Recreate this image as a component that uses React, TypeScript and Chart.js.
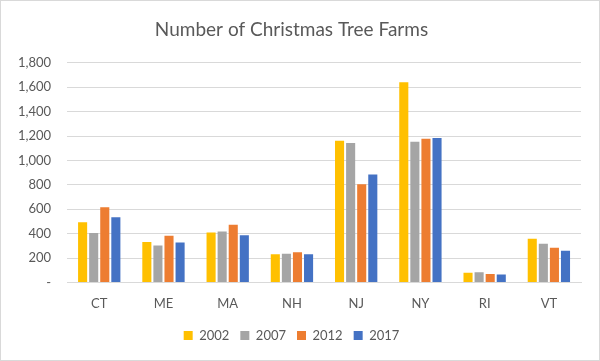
import React, { useEffect, useRef } from "react";
import { Chart, registerables } from "chart.js";

Chart.register(...registerables);

const categories = ["CT", "ME", "MA", "NH", "NJ", "NY", "RI", "VT"];
const years = ["2002", "2007", "2012", "2017"];
const values2002 = [493, 332, 409, 230, 1162, 1641, 80, 357];
const values2007 = [405, 302, 418, 235, 1143, 1152, 83, 316];
const values2012 = [616, 383, 472, 248, 805, 1178, 68, 284];
const values2017 = [535, 327, 386, 230, 884, 1184, 64, 260];
const colors = ["#FFC000", "#A5A5A5", "#ED7D31", "#4472C4"];
const yTicks = [0, 200, 400, 600, 800, 1000, 1200, 1400, 1600, 1800];

export default function App() {
  const ref = useRef<HTMLCanvasElement | null>(null);
  useEffect(() => {
    if (!ref.current) return;
    const series = [values2002, values2007, values2012, values2017];
    const font = "Lato, 'Open Sans', sans-serif";
    const chart = new Chart(ref.current, {
      type: "bar",
      data: {
        labels: categories,
        datasets: series.map((s, i) => ({
          label: years[i],
          data: s,
          backgroundColor: colors[i],
          borderWidth: 0,
          categoryPercentage: 0.69,
          barPercentage: 0.82,
        })),
      },
      options: {
        animation: false,
        responsive: false,
        maintainAspectRatio: false,
        layout: { padding: { left: 1, right: 18, top: 13, bottom: 8 } },
        plugins: {
          title: {
            display: true,
            text: "Number of Christmas Tree Farms",
            color: "#595959",
            font: { family: font, size: 19, weight: "normal" },
            padding: { top: 4, bottom: 22 },
          },
          legend: {
            position: "bottom",
            labels: {
              color: "#595959",
              font: { family: font, size: 13 },
              boxWidth: 9,
              boxHeight: 9,
              padding: 11,
            },
          },
          tooltip: { enabled: false },
        },
        scales: {
          x: {
            grid: { display: false },
            border: { color: "#d9d9d9" },
            ticks: { color: "#595959", font: { family: font, size: 13 }, padding: 6 },
          },
          y: {
            min: 0,
            max: 1800,
            afterBuildTicks: (axis: any) => {
              axis.ticks = yTicks.map((v) => ({ value: v }));
            },
            grid: { color: "#d9d9d9", drawTicks: false },
            border: { display: false },
            ticks: {
              color: "#595959",
              font: { family: font, size: 13 },
              padding: 16,
              callback: (v: any) => (Number(v) === 0 ? "-" : Number(v).toLocaleString("en-US")),
            },
          },
        },
      },
    });
    return () => chart.destroy();
  }, []);
  return (
    <div
      style={{
        position: "absolute",
        left: 0,
        top: 0,
        width: 600,
        height: 361,
        boxSizing: "border-box",
        border: "1px solid #d9d9d9",
        background: "#fff",
      }}
    >
      <canvas ref={ref} width={598} height={359} style={{ display: "block" }} />
    </div>
  );
}
